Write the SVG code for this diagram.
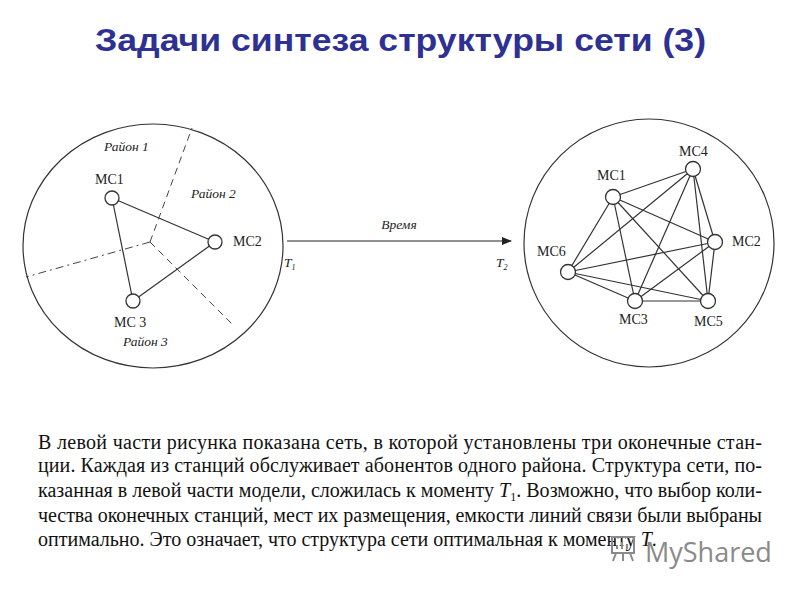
<svg xmlns="http://www.w3.org/2000/svg" width="800" height="600" viewBox="0 0 800 600">
<style>
.bg{fill:#ffffff}
.title{font-family:"Liberation Sans",Arial,sans-serif;font-weight:bold;font-size:32px;fill:#2E3192}
.ring{fill:none;stroke:#333;stroke-width:1.2}
.node{fill:#fff;stroke:#333;stroke-width:1.3}
.edge{stroke:#333;stroke-width:1.2;fill:none}
.lbl{font-family:"Liberation Serif","Times New Roman",serif;font-size:14px;fill:#222}
.it{font-family:"Liberation Serif","Times New Roman",serif;font-size:13.5px;font-style:italic;fill:#222}
.div1{stroke:#444;stroke-width:1;stroke-dasharray:7 5;fill:none}
.div2{stroke:#444;stroke-width:1;stroke-dasharray:8 4 2 4;fill:none}
.para{font-family:"Liberation Serif","Times New Roman",serif;font-size:20px;fill:#111}
.wm{font-family:"Open Sans","DejaVu Sans",sans-serif;font-size:27px;fill:#8a8a8a}
</style>
<defs>
<marker id="arr" markerWidth="10" markerHeight="8" refX="9" refY="4" orient="auto" markerUnits="userSpaceOnUse">
<path d="M0,0 L10,4 L0,8 z" fill="#222"/>
</marker>
</defs>
<rect class="bg" x="0" y="0" width="800" height="600"/>
<text class="title" x="95" y="51" textLength="611" lengthAdjust="spacingAndGlyphs">Задачи синтеза структуры сети (3)</text>

<!-- Left network -->
<g id="left-area">
<ellipse class="ring" cx="153" cy="246" rx="130" ry="122"/>
<path class="div1" d="M150,242 L192,128"/>
<path class="div1" d="M150,242 L234,326"/>
<path class="div2" d="M150,242 L26,277"/>
<text class="it" x="104" y="151">Район 1</text>
<text class="it" x="191" y="198">Район  2</text>
<text class="it" x="123" y="346">Район  3</text>
</g>
<g id="left-edges">
<line class="edge" x1="112" y1="198" x2="215" y2="242"/>
<line class="edge" x1="112" y1="198" x2="133" y2="301"/>
<line class="edge" x1="215" y1="242" x2="133" y2="301"/>
</g>
<g id="L-MC1"><circle class="node" cx="112" cy="198" r="7"/><text class="lbl" x="95" y="184">MC1</text></g>
<g id="L-MC2"><circle class="node" cx="215" cy="242" r="7"/><text class="lbl" x="233" y="246">MC2</text></g>
<g id="L-MC3"><circle class="node" cx="133" cy="301" r="7"/><text class="lbl" x="114" y="327">MC 3</text></g>

<!-- Time arrow -->
<g id="time-arrow">
<line x1="287" y1="241" x2="511" y2="241" stroke="#222" stroke-width="1.2" marker-end="url(#arr)"/>
<text class="it" x="399" y="229" text-anchor="middle">Время</text>
<text class="it" x="284" y="267">T<tspan font-size="8" dy="3">1</tspan></text>
<text class="it" x="496" y="267">T<tspan font-size="8" dy="3">2</tspan></text>
</g>

<!-- Right network -->
<g id="right-area">
<ellipse class="ring" cx="649" cy="243" rx="125" ry="124"/>
</g>
<g id="right-edges">
<line class="edge" x1="613" y1="197" x2="693" y2="169"/>
<line class="edge" x1="613" y1="197" x2="715" y2="242"/>
<line class="edge" x1="613" y1="197" x2="568" y2="272"/>
<line class="edge" x1="613" y1="197" x2="635" y2="301"/>
<line class="edge" x1="613" y1="197" x2="708" y2="301"/>
<line class="edge" x1="693" y1="169" x2="715" y2="242"/>
<line class="edge" x1="693" y1="169" x2="568" y2="272"/>
<line class="edge" x1="693" y1="169" x2="635" y2="301"/>
<line class="edge" x1="693" y1="169" x2="708" y2="301"/>
<line class="edge" x1="715" y1="242" x2="568" y2="272"/>
<line class="edge" x1="715" y1="242" x2="635" y2="301"/>
<line class="edge" x1="715" y1="242" x2="708" y2="301"/>
<line class="edge" x1="568" y1="272" x2="635" y2="301"/>
<line class="edge" x1="568" y1="272" x2="708" y2="301"/>
<line class="edge" x1="635" y1="301" x2="708" y2="301"/>
</g>
<g id="R-MC1"><circle class="node" cx="613" cy="197" r="7.5"/><text class="lbl" x="597" y="180">MC1</text></g>
<g id="R-MC4"><circle class="node" cx="693" cy="169" r="7.5"/><text class="lbl" x="679" y="156">MC4</text></g>
<g id="R-MC2"><circle class="node" cx="715" cy="242" r="7.5"/><text class="lbl" x="732" y="246">MC2</text></g>
<g id="R-MC6"><circle class="node" cx="568" cy="272" r="7.5"/><text class="lbl" x="537" y="256">MC6</text></g>
<g id="R-MC3"><circle class="node" cx="635" cy="301" r="7.5"/><text class="lbl" x="619" y="324">MC3</text></g>
<g id="R-MC5"><circle class="node" cx="708" cy="301" r="7.5"/><text class="lbl" x="694" y="326">MC5</text></g>

<!-- Paragraph -->
<g id="paragraph">
<text class="para" x="38" y="449" textLength="724" lengthAdjust="spacing">В левой части рисунка показана сеть, в которой установлены три оконечные стан-</text>
<text class="para" x="38" y="472" textLength="724" lengthAdjust="spacing">ции. Каждая из станций обслуживает абонентов одного района. Структура сети, по-</text>
<text class="para" x="38" y="497" textLength="724" lengthAdjust="spacing">казанная в левой части модели, сложилась к моменту <tspan font-style="italic">T</tspan><tspan font-size="12" dy="4">1</tspan><tspan dy="-4">. Возможно, что выбор коли-</tspan></text>
<text class="para" x="38" y="522" textLength="724" lengthAdjust="spacing">чества оконечных станций, мест их размещения, емкости линий связи были выбраны</text>
<text class="para" x="38" y="546">оптимально. Это означает, что структура сети оптимальная к моменту <tspan font-style="italic">T</tspan>.</text>
</g>
<g id="watermark">
<rect x="612" y="537" width="22" height="16" fill="none" stroke="#8a8a8a" stroke-width="2"/>
<path d="M617,549 v-4 M622,549 v-7 M627,549 v-5 M616,553 l-3,8 M623,553 v8 M630,553 l3,8" stroke="#8a8a8a" stroke-width="2"/>
<text class="wm" x="645" y="562">MyShared</text>
</g>
</svg>
